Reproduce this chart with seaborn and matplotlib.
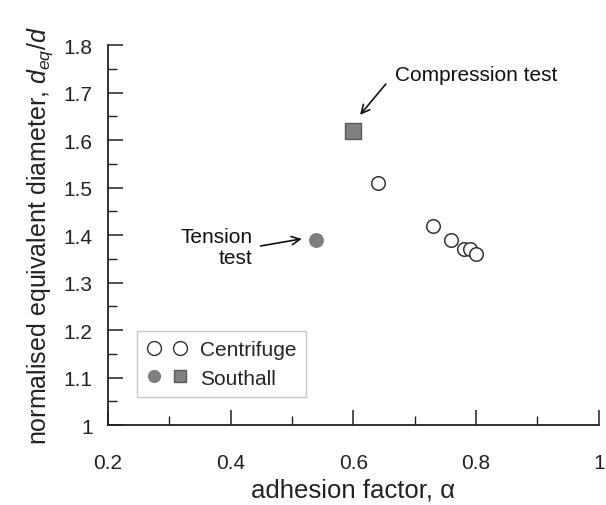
import matplotlib
matplotlib.use("Agg")
import matplotlib.pyplot as plt
import seaborn as sns
import pandas as pd
from matplotlib.ticker import MultipleLocator, FuncFormatter
from matplotlib.lines import Line2D
from matplotlib.legend_handler import HandlerTuple

# Data
centrifuge_alpha = [0.64, 0.73, 0.76, 0.78, 0.79, 0.80]
centrifuge_deq = [1.51, 1.42, 1.39, 1.37, 1.37, 1.36]
tension_alpha = [0.54]
tension_deq = [1.39]
compression_alpha = [0.60]
compression_deq = [1.62]
x_ticks = [0.2, 0.4, 0.6, 0.8, 1.0]
y_ticks = [1.0, 1.1, 1.2, 1.3, 1.4, 1.5, 1.6, 1.7, 1.8]

sns.set_theme(style="white")
plt.rcParams['font.family'] = ['Liberation Sans', 'DejaVu Sans']
plt.rcParams['mathtext.fontset'] = 'custom'
plt.rcParams['mathtext.rm'] = 'Liberation Sans'
plt.rcParams['mathtext.it'] = 'Liberation Sans:italic'

fig = plt.figure(figsize=(6.06, 5.06), dpi=100)
ax = fig.add_axes([0.178, 0.158, 0.81, 0.751])

cdf = pd.DataFrame({"alpha": centrifuge_alpha, "deq": centrifuge_deq})
tdf = pd.DataFrame({"alpha": tension_alpha, "deq": tension_deq})
sdf = pd.DataFrame({"alpha": compression_alpha, "deq": compression_deq})

sns.scatterplot(data=cdf, x="alpha", y="deq", ax=ax, marker="o", s=95,
                facecolor="white", edgecolor="#333333", linewidth=1.1, zorder=3)
sns.scatterplot(data=tdf, x="alpha", y="deq", ax=ax, marker="o", s=95,
                color="#7f7f7f", edgecolor="#7f7f7f", linewidth=1, zorder=3)
sns.scatterplot(data=sdf, x="alpha", y="deq", ax=ax, marker="s", s=130,
                color="#808080", edgecolor="#5a5a5a", linewidth=1, zorder=3)

ax.set_xlim(0.2, 1.0)
ax.set_ylim(1.0, 1.8)
ax.set_xticks(x_ticks)
ax.set_yticks(y_ticks)
ax.xaxis.set_minor_locator(MultipleLocator(0.1))
ax.yaxis.set_minor_locator(MultipleLocator(0.05))
fmt = FuncFormatter(lambda v, p: f"{v:g}")
ax.xaxis.set_major_formatter(fmt)
ax.yaxis.set_major_formatter(fmt)
ax.tick_params(which="both", bottom=True, left=True, top=False, right=False)
ax.tick_params(which="major", direction="in", length=11, width=1.1, color="#222222",
               labelsize=15, labelcolor="#222222")
ax.tick_params(axis="x", which="major", pad=20)
ax.tick_params(axis="y", which="major", pad=11)
ax.tick_params(which="minor", direction="in", length=6.5, width=1.0, color="#222222")
for s in ["top", "right"]:
    ax.spines[s].set_visible(False)
for s in ["left", "bottom"]:
    ax.spines[s].set_color("#222222")
    ax.spines[s].set_linewidth(1.3)

ax.set_xlabel("adhesion factor, α", fontsize=18.5, color="#222222", labelpad=4)
ax.set_ylabel(r"normalised equivalent diameter, $d_{eq}/d$", fontsize=18, color="#222222", labelpad=6)

ax.text(0.668, 1.737, "Compression test", fontsize=15, color="#111111", ha="left", va="center")
ax.annotate("", xy=(0.611, 1.653), xytext=(0.653, 1.718),
            arrowprops=dict(arrowstyle="->", color="#111111", lw=1.2,
                            shrinkA=0, shrinkB=0, mutation_scale=15))
ax.text(0.436, 1.375, "Tension\ntest", fontsize=15, color="#111111", ha="right", va="center",
        linespacing=1.1)
ax.annotate("", xy=(0.516, 1.392), xytext=(0.449, 1.377),
            arrowprops=dict(arrowstyle="->", color="#111111", lw=1.2,
                            shrinkA=0, shrinkB=0, mutation_scale=15))

h_c = (Line2D([], [], marker="o", ls="", markersize=10, markerfacecolor="white",
              markeredgecolor="#333333", markeredgewidth=1.0),
       Line2D([], [], marker="o", ls="", markersize=10, markerfacecolor="white",
              markeredgecolor="#333333", markeredgewidth=1.0))
h_s = (Line2D([], [], marker="o", ls="", markersize=8.5, markerfacecolor="#7f7f7f",
              markeredgecolor="#7f7f7f"),
       Line2D([], [], marker="s", ls="", markersize=8.5, markerfacecolor="#808080",
              markeredgecolor="#5a5a5a"))
leg = ax.legend([h_c, h_s], ["Centrifuge", "Southall"],
                handler_map={tuple: HandlerTuple(ndivide=None, pad=0.5)},
                loc="lower left", bbox_to_anchor=(0.059, 0.074), fontsize=15,
                frameon=True, fancybox=False, edgecolor="#bbbbbb",
                handlelength=2.0, handletextpad=0.6, borderpad=0.45, labelspacing=0.45,
                borderaxespad=0)
leg.get_frame().set_linewidth(1.0)

fig.savefig("out.png", dpi=100)
